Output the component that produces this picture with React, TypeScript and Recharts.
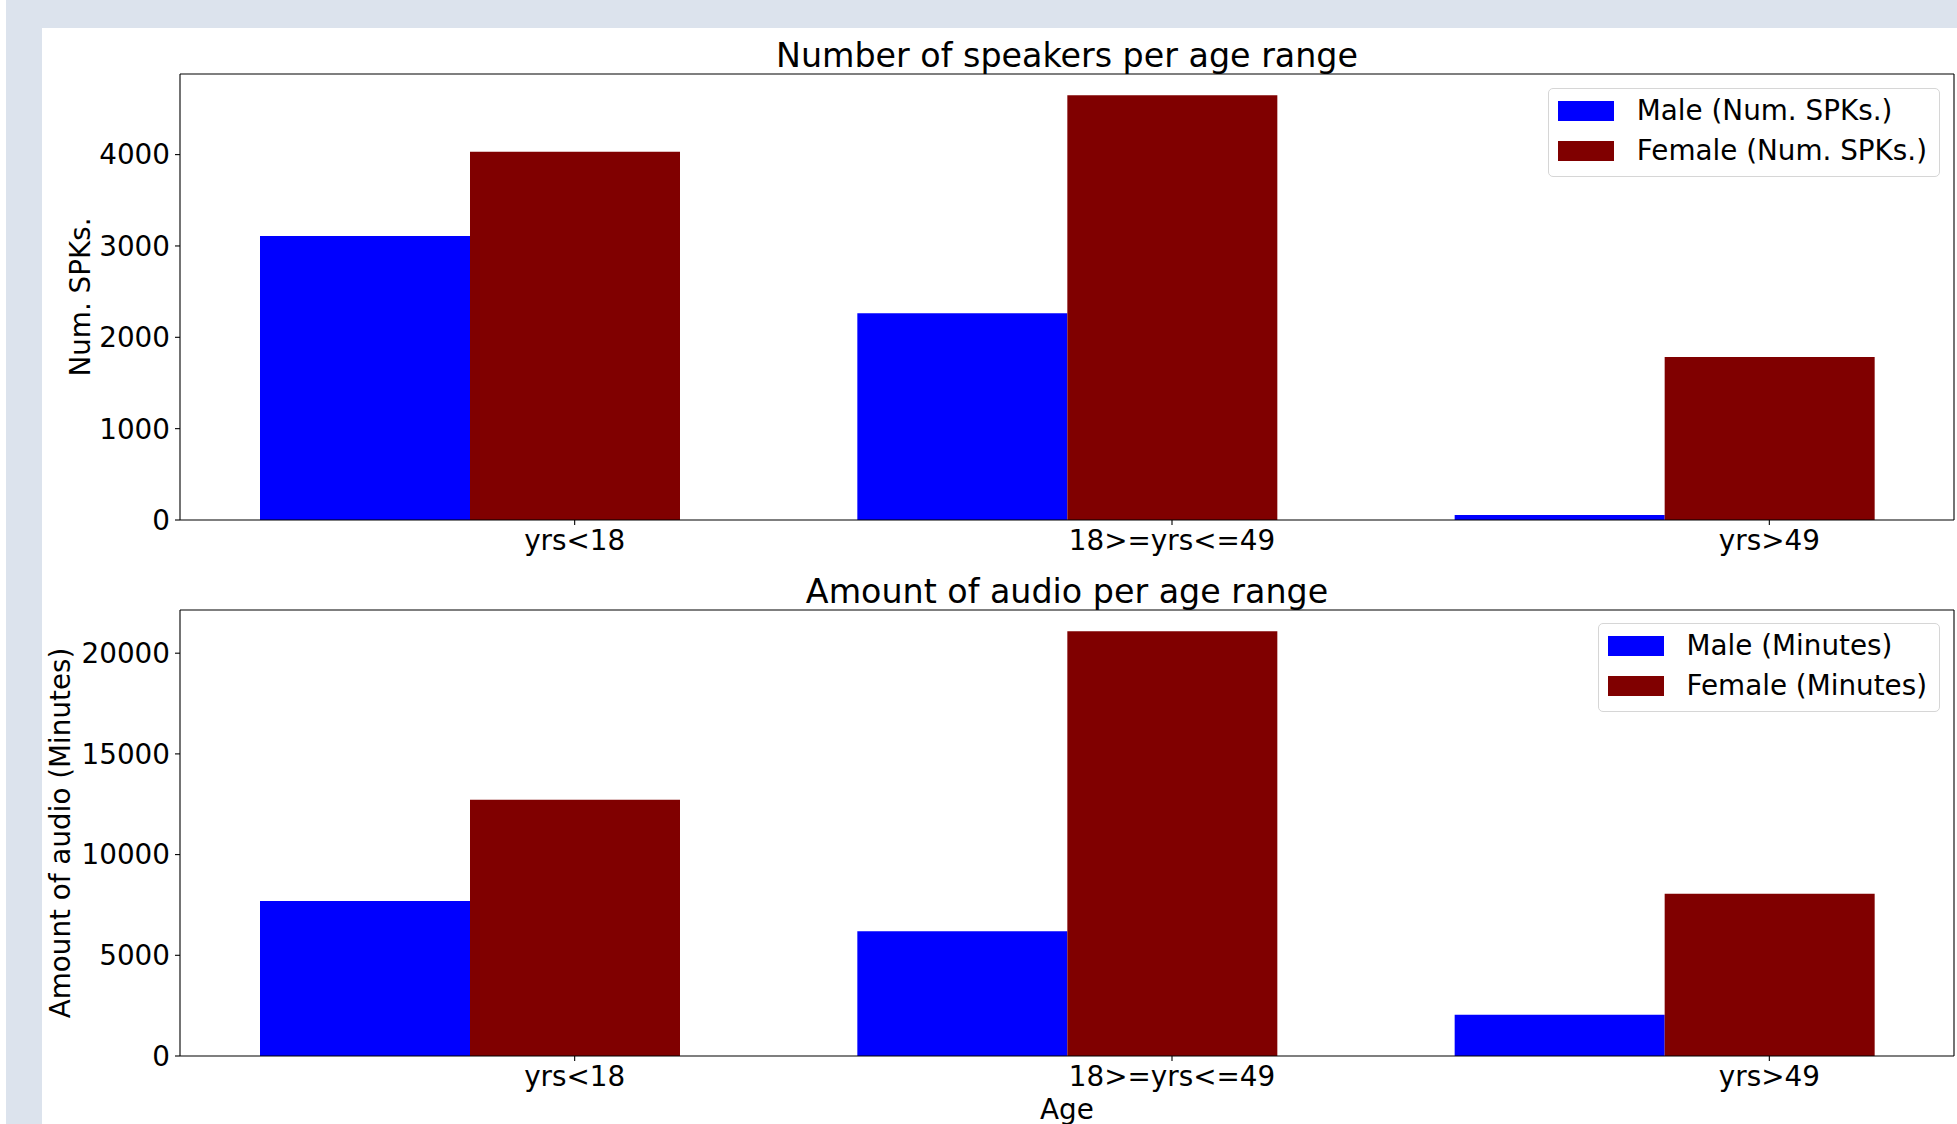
import React from "react";
import { Bar, BarChart, CartesianGrid, Legend, XAxis, YAxis } from "recharts";

const categories = ["yrs<18", "18>=yrs<=49", "yrs>49"];
const maleSpeakers = [3110, 2263, 55];
const femaleSpeakers = [4030, 4650, 1785];
const maleMinutes = [7700, 6200, 2050];
const femaleMinutes = [12720, 21090, 8060];
const speakerTicks = [0, 1000, 2000, 3000, 4000];
const minuteTicks = [0, 5000, 10000, 15000, 20000];

const FONT = "DejaVu Sans";
const BAR = 210;
const MALE = "#0000ff";
const FEMALE = "#800000";

// ticks sit under the female bar, like the original plot
function AgeTick({ x, y, payload }: any) {
  const cx = x + BAR / 2;
  return (
    <g>
      <line x1={cx} x2={cx} y1={y} y2={y + 5} stroke="#000" strokeWidth={1.1} />
      <text x={cx} y={y + 30} textAnchor="middle" fontSize={27.8} fill="#000">
        {payload.value}
      </text>
    </g>
  );
}

function LegendBox({ items }: { items: { name: string; color: string }[] }) {
  return (
    <div
      style={{
        border: "1px solid #d6d6d6",
        borderRadius: 5,
        background: "#fff",
        padding: "1.5px 12px 5px 9px",
        fontFamily: FONT,
        fontSize: 27.8,
        color: "#000",
      }}
    >
      {items.map((it) => (
        <div key={it.name} style={{ display: "flex", alignItems: "center", height: 40.3 }}>
          <span style={{ width: 56, height: 20, background: it.color, marginRight: 23 }} />
          <span style={{ whiteSpace: "nowrap" }}>{it.name}</span>
        </div>
      ))}
    </div>
  );
}

interface PanelProps {
  top: number;
  height: number;
  marginTop: number;
  axisHeight: number;
  title: string;
  titleTop: number;
  yLabel: string;
  yLabelX: number;
  male: number[];
  female: number[];
  ticks: number[];
  maleName: string;
  femaleName: string;
  legendTop: number;
  xLabel?: string;
}

function Panel(p: PanelProps) {
  const data = categories.map((age, i) => ({ age, male: p.male[i], female: p.female[i] }));
  const legendItems = [
    { name: p.maleName, color: MALE },
    { name: p.femaleName, color: FEMALE },
  ];
  return (
    <div style={{ position: "absolute", left: 0, top: p.top, width: 1957, height: p.height }}>
      <div
        style={{
          position: "absolute",
          left: 180,
          width: 1774,
          top: p.titleTop,
          height: 34,
          lineHeight: "34px",
          textAlign: "center",
          fontSize: 33.3,
          whiteSpace: "nowrap",
        }}
      >
        {p.title}
      </div>
      <BarChart
        width={1957}
        height={p.height}
        data={data}
        margin={{ top: p.marginTop, right: 3, bottom: 0, left: 0 }}
        barGap={0}
        barSize={BAR}
      >
        {/* top and right edges of the axes frame */}
        <CartesianGrid
          stroke="#000"
          strokeWidth={1.1}
          horizontalCoordinatesGenerator={({ offset }: any) => [offset.top]}
          verticalCoordinatesGenerator={({ offset }: any) => [offset.left + offset.width]}
        />
        <XAxis
          dataKey="age"
          height={p.axisHeight}
          interval={0}
          tickSize={0}
          tickMargin={0}
          tickLine={false}
          tick={<AgeTick />}
          axisLine={{ stroke: "#000", strokeWidth: 1.1 }}
          padding={{ left: -9, right: -9 }}
          label={
            p.xLabel
              ? (props: any) => {
                  const vb = props.viewBox;
                  return (
                    <text x={vb.x + vb.width / 2} y={vb.y + 62.5} textAnchor="middle" fontSize={27.8} fill="#000">
                      {p.xLabel}
                    </text>
                  );
                }
              : undefined
          }
        />
        <YAxis
          type="number"
          width={180}
          domain={[0, (max: number) => max * 1.05]}
          ticks={p.ticks}
          interval={0}
          tickSize={5}
          tickMargin={5}
          tick={{ fontSize: 27.8, fill: "#000" }}
          tickLine={{ stroke: "#000", strokeWidth: 1.1 }}
          axisLine={{ stroke: "#000", strokeWidth: 1.1 }}
          label={(props: any) => {
            const vb = props.viewBox;
            const cy = vb.y + vb.height / 2;
            return (
              <text
                x={p.yLabelX}
                y={cy}
                transform={`rotate(-90, ${p.yLabelX}, ${cy})`}
                textAnchor="middle"
                fontSize={27.8}
                fill="#000"
              >
                {p.yLabel}
              </text>
            );
          }}
        />
        <Legend
          layout="vertical"
          align="center"
          verticalAlign="middle"
          content={<LegendBox items={legendItems} />}
          wrapperStyle={{ top: p.legendTop, right: 17, left: "auto", width: "auto" }}
        />
        <Bar dataKey="male" name={p.maleName} fill={MALE} isAnimationActive={false} />
        <Bar dataKey="female" name={p.femaleName} fill={FEMALE} isAnimationActive={false} />
      </BarChart>
    </div>
  );
}

export default function App() {
  return (
    <div
      style={{
        position: "absolute",
        left: 0,
        top: 0,
        width: 1957,
        height: 1124,
        background: "#fff",
        fontFamily: FONT,
        overflow: "hidden",
      }}
    >
      <div style={{ position: "absolute", left: 6, top: 0, width: 36, height: 1124, background: "#dce3ed" }} />
      <div style={{ position: "absolute", left: 6, top: 0, width: 1951, height: 28, background: "#dce3ed" }} />
      <Panel
        top={0}
        height={560}
        marginTop={74}
        axisHeight={40}
        title="Number of speakers per age range"
        titleTop={38.5}
        yLabel="Num. SPKs."
        yLabelX={90}
        male={maleSpeakers}
        female={femaleSpeakers}
        ticks={speakerTicks}
        maleName="Male (Num. SPKs.)"
        femaleName="Female (Num. SPKs.)"
        legendTop={88}
      />
      <Panel
        top={560}
        height={564}
        marginTop={50}
        axisHeight={68}
        title="Amount of audio per age range"
        titleTop={14.5}
        yLabel="Amount of audio (Minutes)"
        yLabelX={70}
        male={maleMinutes}
        female={femaleMinutes}
        ticks={minuteTicks}
        maleName="Male (Minutes)"
        femaleName="Female (Minutes)"
        legendTop={63}
        xLabel="Age"
      />
    </div>
  );
}
